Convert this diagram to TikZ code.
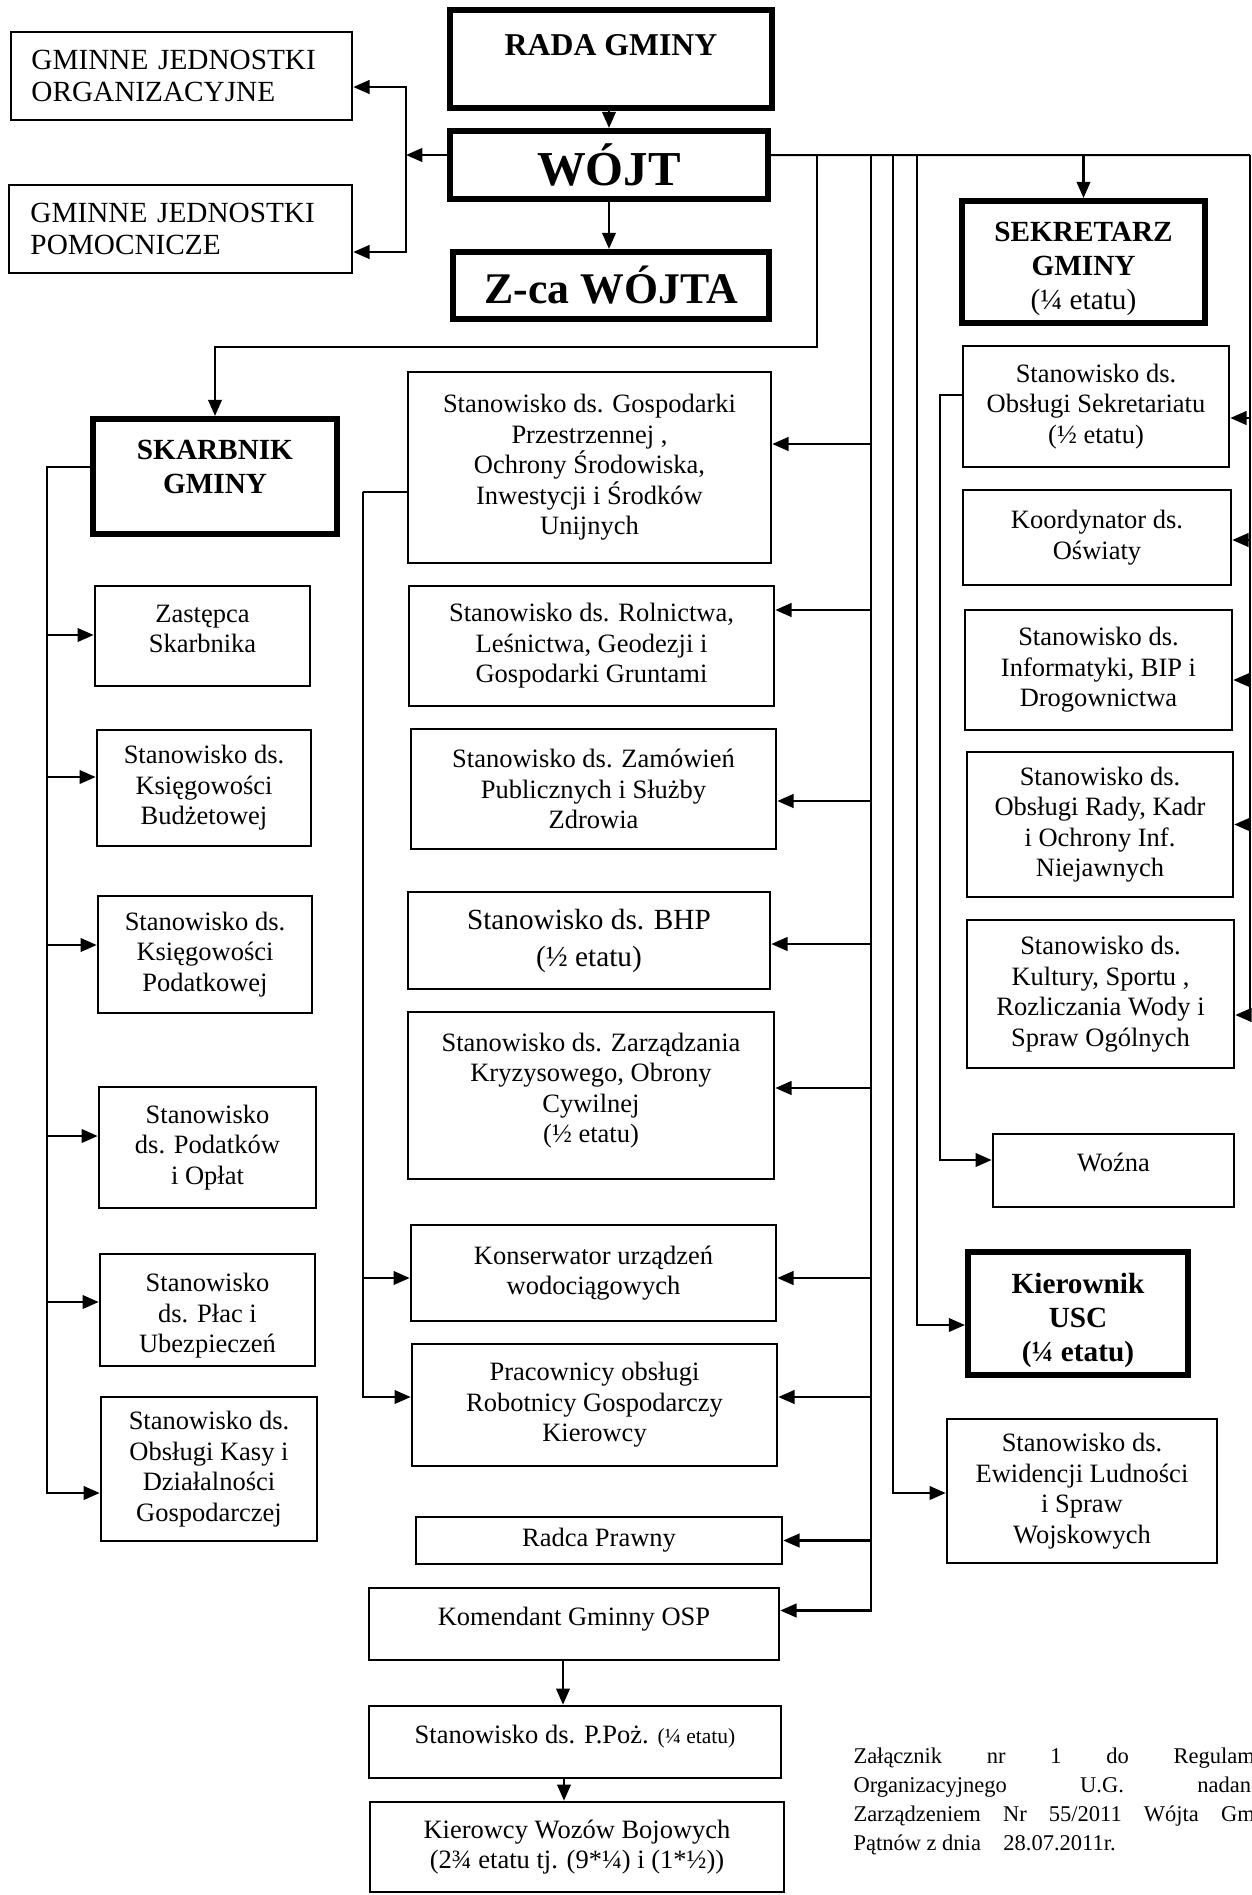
\documentclass[tikz,border=0pt]{standalone}
\usepackage{fontspec}
\setmainfont{Liberation Serif}
\usepackage{tikz}
\usetikzlibrary{arrows.meta}
\tikzset{
    spans/.style args = {#1/#2/#3/#4}{minimum width={(#3-#1)*0.4pt}, minimum height={(#4-#2)*0.4pt}, at={({(#1+#3)/2},{(#2+#4)/2})}},
    unit-box/.style = {draw, line width=1pt, rectangle, inner sep=0pt, align=center, font=\fontsize{10.6}{12.2}\selectfont},
    unit-box-big/.style = {unit-box, align=left, text width=120pt, font=\fontsize{11.7}{13}\selectfont},
    head-box/.style = {unit-box, line width=2.4pt, font=\bfseries\fontsize{11.7}{13.6}\selectfont},
    link/.style = {line width=1pt, -{Triangle[length=6.5pt, width=5.4pt]}},
    link-both/.style = {line width=1pt, {Triangle[length=6.5pt, width=5.4pt]}-{Triangle[length=6.5pt, width=5.4pt]}},
    bus-line/.style = {line width=0.8pt},
}

\begin{document}
\begin{tikzpicture}[x=0.4pt, y=-0.4pt]
\useasboundingbox (0,0) rectangle (1252,1895);
\clip (0,0) rectangle (1252,1895);

\node[unit-box-big, spans=11/32/352/120] (gjo) {GMINNE JEDNOSTKI\\ORGANIZACYJNE};
\node[unit-box-big, spans=9/185/352/273] (gjp) {GMINNE JEDNOSTKI\\POMOCNICZE};
\node[head-box, font=\bfseries\fontsize{12.7}{15}\selectfont, spans=450/10/772/108] (rada) {RADA GMINY\\[-4pt]\mbox{}};
\node[head-box, font=\bfseries\fontsize{19.5}{22}\selectfont, spans=450/131/768/199] (wojt) {WÓJT};
\node[head-box, font=\bfseries\fontsize{17.5}{20}\selectfont, spans=453/252/769/319] (zca) {Z-ca WÓJTA};

\node[head-box, spans=962/201/1205/323] (sekretarz) {\mbox{}\\SEKRETARZ\\GMINY\\\mdseries(¼ etatu)};
\node[unit-box, spans=963/346/1229/467] (obssek) {Stanowisko ds.\\Obsługi Sekretariatu\\(½ etatu)};
\node[unit-box, spans=963/490/1231/585] (koord) {Koordynator ds.\\Oświaty};
\node[unit-box, spans=965/610/1232/730] (inform) {Stanowisko ds.\\Informatyki, BIP i\\Drogownictwa};
\node[unit-box, spans=967/752/1233/897] (rady) {Stanowisko ds.\\Obsługi Rady, Kadr\\i Ochrony Inf.\\Niejawnych};
\node[unit-box, spans=967/920/1234/1068] (kultura) {Stanowisko ds.\\Kultury, Sportu ,\\Rozliczania Wody i\\Spraw Ogólnych};
\node[unit-box, spans=993/1134/1234/1207] (wozna) {Woźna\\[-6pt]\mbox{}};
\node[head-box, spans=968/1252/1188/1375] (usc) {\mbox{}\\Kierownik\\USC\\(¼ etatu)};
\node[unit-box, spans=947/1419/1217/1563] (ewid) {Stanowisko ds.\\Ewidencji Ludności\\i Spraw\\Wojskowych};

\node[head-box, spans=93/419/337/534] (skarbnik) {SKARBNIK\\GMINY\\[-5.6pt]\mbox{}};
\node[unit-box, spans=95/586/310/686] (zastepca) {Zastępca\\Skarbnika\\[-6.4pt]\mbox{}};
\node[unit-box, spans=97/730/311/846] (budzet) {Stanowisko ds.\\Księgowości\\Budżetowej};
\node[unit-box, spans=98/896/312/1013] (podatk) {Stanowisko ds.\\Księgowości\\Podatkowej};
\node[unit-box, spans=99/1087/316/1208] (oplaty) {Stanowisko\\ds. Podatków\\i Opłat};
\node[unit-box, spans=100/1254/315/1366] (place) {\mbox{}\\Stanowisko\\ds. Płac i\\Ubezpieczeń};
\node[unit-box, spans=101/1397/317/1541] (kasa) {Stanowisko ds.\\Obsługi Kasy i\\Działalności\\Gospodarczej};

\node[unit-box, spans=408/372/771/563] (gosp) {Stanowisko ds. Gospodarki\\Przestrzennej ,\\Ochrony Środowiska,\\Inwestycji i Środków\\Unijnych};
\node[unit-box, spans=409/586/774/706] (roln) {Stanowisko ds. Rolnictwa,\\Leśnictwa, Geodezji i\\Gospodarki Gruntami};
\node[unit-box, spans=411/729/776/849] (zamow) {Stanowisko ds. Zamówień\\Publicznych i Służby\\Zdrowia};
\node[unit-box, font=\fontsize{11.7}{14.8}\selectfont, spans=408/892/770/989] (bhp) {Stanowisko ds. BHP\\(½ etatu)};
\node[unit-box, spans=408/1012/774/1179] (zarz) {Stanowisko ds. Zarządzania\\Kryzysowego, Obrony\\Cywilnej\\(½ etatu)\\[-6pt]\mbox{}};
\node[unit-box, spans=411/1225/776/1321] (konserw) {Konserwator urządzeń\\wodociągowych};
\node[unit-box, spans=412/1344/777/1466] (pracown) {Pracownicy obsługi\\Robotnicy Gospodarczy\\Kierowcy};
\node[unit-box, spans=416/1517/782/1564] (radca) {Radca Prawny};
\node[unit-box, spans=369/1588/779/1660] (koment) {Komendant Gminny OSP\\[-6pt]\mbox{}};
\node[unit-box, spans=369/1706/781/1778] (ppoz) {Stanowisko ds. P.Poż. {\fontsize{8.6}{10}\selectfont(¼ etatu)}\\[-6pt]\mbox{}};
\node[unit-box, spans=370/1802/784/1892] (kierowcy) {Kierowcy Wozów Bojowych\\(2¾ etatu tj. (9*¼) i (1*½))};

\node[anchor=north west, inner sep=0pt, align=left, font=\fontsize{9}{11.6}\selectfont] (zalacznik) at (853,1747)
    {\makebox[172pt][s]{Załącznik nr 1 do Regulaminu}\\
     \makebox[172pt][s]{Organizacyjnego U.G. nadanego}\\
     \makebox[172pt][s]{Zarządzeniem Nr 55/2011 Wójta Gminy}\\
     Pątnów z dnia\quad 28.07.2011r.};

\coordinate (jbus) at (406,155);
\coordinate (busR) at (1250,155);
\coordinate (skTurn) at (817,347);
\coordinate (midBus) at (871,155);
\coordinate (ewBus) at (893,155);
\coordinate (uscBus) at (917,155);
\coordinate (skBus) at (47,467);
\coordinate (gpBus) at (363,492);
\coordinate (wzBus) at (940,395);

\draw[link] (wojt.north |- rada.south) -- (wojt.north);
\draw[link] (wojt.south) -- (wojt.south |- zca.north);
\draw[link] ([yshift=4pt]wojt.west) -- ([yshift=4pt]wojt.west -| jbus);
\draw[link-both] ([yshift=-4.4pt]gjo.east) -| (jbus) |- ([yshift=-9.2pt]gjp.east);

\draw[bus-line] ([yshift=4pt]wojt.east) -- (busR);
\draw[link] (busR) |- ([yshift=-8.4pt]kultura.east);
\foreach \unitname/\dy in {obssek/-4.6, koord/-1, inform/-4, rady/0}
    \draw[link] ([yshift=\dy pt]\unitname.east -| busR) -- ([yshift=\dy pt]\unitname.east);
\draw[link] (busR -| sekretarz.north) -- (sekretarz.north);

\draw[link] (skTurn |- busR) -- (skTurn) -| (skarbnik.north);
\draw[link] (midBus) |- ([yshift=5.4pt]koment.east);
\foreach \unitname/\dy in {gosp/9.4, roln/14.4, zamow/-4.8, bhp/-1.4, zarz/3, konserw/-2, pracown/3.2, radca/0}
    \draw[link] ([yshift=\dy pt]\unitname.east -| midBus) -- ([yshift=\dy pt]\unitname.east);
\draw[link] (ewBus) |- ([yshift=-0.8pt]ewid.west);
\draw[link] (uscBus) |- ([yshift=-4.6pt]usc.west);
\draw[link] ([yshift=4.6pt]obssek.west) -| (wzBus) |- ([yshift=4.2pt]wozna.west);

\draw[link] ([yshift=3.8pt]skarbnik.west) -| (skBus) |- ([yshift=-9.6pt]kasa.west);
\foreach \unitname/\dy in {zastepca/0.4, budzet/4.4, podatk/3.8, oplaty/4.6, place/3.2}
    \draw[link] ([yshift=\dy pt]\unitname.west -| skBus) -- ([yshift=\dy pt]\unitname.west);
\draw[link] ([yshift=-9.8pt]gosp.west) -| (gpBus) |- ([yshift=3.2pt]pracown.west);
\draw[link] ([yshift=-2pt]konserw.west -| gpBus) -- ([yshift=-2pt]konserw.west);

\draw[link] ([xshift=-4.4pt]koment.south) -- ([xshift=-4.4pt]koment.south |- ppoz.north);
\draw[link] ([xshift=-4.4pt]ppoz.south) -- ([xshift=-4.4pt]ppoz.south |- kierowcy.north);
\end{tikzpicture}
\end{document}
